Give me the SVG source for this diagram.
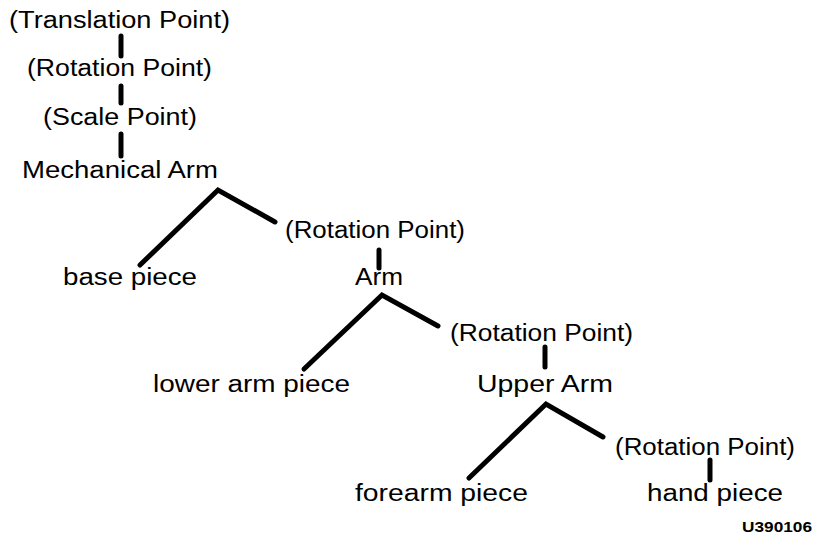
<svg xmlns="http://www.w3.org/2000/svg" width="815" height="545" viewBox="0 0 815 545">
<style>
text{font-family:"Liberation Sans",Arial,Helvetica,sans-serif;font-size:23px;fill:#000}
.id{font-size:14px;font-weight:bold}
.c{stroke:#000;stroke-width:5;fill:none;stroke-linecap:round;stroke-linejoin:miter}
</style>
<rect width="815" height="545" fill="#fff"/>
<g id="connectors">
<line class="c" x1="121" y1="36" x2="121" y2="56"/>
<line class="c" x1="121" y1="86" x2="121" y2="103"/>
<line class="c" x1="121" y1="134" x2="121" y2="156"/>
<polyline class="c" points="140,265 218,190 275,222"/>
<line class="c" x1="379" y1="250" x2="379" y2="268"/>
<polyline class="c" points="304,369 382,295 438,326"/>
<line class="c" x1="545" y1="347" x2="545" y2="367"/>
<polyline class="c" points="469,478 546,404 603,437"/>
<line class="c" x1="710" y1="460" x2="710" y2="480"/>
</g>
<g id="translation"><text x="9" y="28" textLength="221" lengthAdjust="spacingAndGlyphs">(Translation Point)</text></g>
<g id="rotation1"><text x="27" y="76" textLength="185" lengthAdjust="spacingAndGlyphs">(Rotation Point)</text></g>
<g id="scale"><text x="43" y="125" textLength="154" lengthAdjust="spacingAndGlyphs">(Scale Point)</text></g>
<g id="mech"><text x="22" y="178" textLength="196" lengthAdjust="spacingAndGlyphs">Mechanical Arm</text></g>
<g id="rotation2"><text x="285" y="238" textLength="180" lengthAdjust="spacingAndGlyphs">(Rotation Point)</text></g>
<g id="base"><text x="63" y="285" textLength="134" lengthAdjust="spacingAndGlyphs">base piece</text></g>
<g id="arm"><text x="355" y="285" textLength="48" lengthAdjust="spacingAndGlyphs">Arm</text></g>
<g id="rotation3"><text x="450" y="341" textLength="183" lengthAdjust="spacingAndGlyphs">(Rotation Point)</text></g>
<g id="lower"><text x="153" y="392" textLength="197" lengthAdjust="spacingAndGlyphs">lower arm piece</text></g>
<g id="upper"><text x="477" y="392" textLength="136" lengthAdjust="spacingAndGlyphs">Upper Arm</text></g>
<g id="rotation4"><text x="615" y="455" textLength="180" lengthAdjust="spacingAndGlyphs">(Rotation Point)</text></g>
<g id="forearm"><text x="355" y="501" textLength="173" lengthAdjust="spacingAndGlyphs">forearm piece</text></g>
<g id="hand"><text x="647" y="501" textLength="136" lengthAdjust="spacingAndGlyphs">hand piece</text></g>
<g id="label"><text class="id" x="742" y="532" textLength="70" lengthAdjust="spacingAndGlyphs">U390106</text></g>
</svg>
